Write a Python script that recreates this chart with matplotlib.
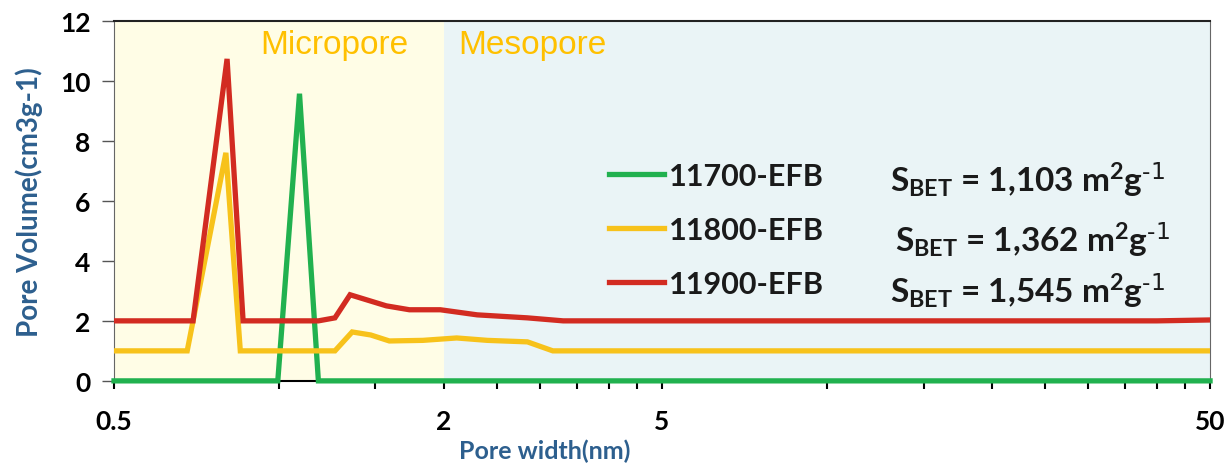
import matplotlib
matplotlib.use('Agg')
import matplotlib.pyplot as plt
from matplotlib.ticker import FixedLocator, NullFormatter, FixedFormatter

plt.rcParams['font.family'] = ['Lato', 'DejaVu Sans']
plt.rcParams['mathtext.default'] = 'regular'

# pore size distribution, pore width in nm, volume in cm3/g
w_700 = [0.5, 0.995, 1.09, 1.18, 50]
v_700 = [0, 0, 9.57, 0, 0]

w_800 = [0.5, 0.68, 0.80, 0.85, 1.265, 1.36, 1.47, 1.59, 1.83, 2.11, 2.40, 2.84, 3.16, 50]
v_800 = [1.0, 1.0, 7.6, 1.0, 1.0, 1.63, 1.53, 1.33, 1.35, 1.43, 1.35, 1.3, 1.0, 1.0]

w_900 = [0.5, 0.697, 0.804, 0.86, 1.18, 1.265, 1.348, 1.57, 1.73, 1.97, 2.30, 2.84, 3.30, 40, 50]
v_900 = [2.0, 2.0, 10.73, 2.0, 2.0, 2.1, 2.87, 2.5, 2.37, 2.37, 2.2, 2.1, 2.0, 2.0, 2.03]

names = ['11700-EFB', '11800-EFB', '11900-EFB']
colors = ['#21B14F', '#F7C21B', '#D22B21']
sbet = ['1,103', '1,362', '1,545']

major_ticks = [0.5, 2, 5, 50]
minor_ticks = [1, 1.5, 2.5, 3, 3.5, 4, 4.5, 10, 15, 20, 25, 30, 35, 40, 45]

fig = plt.figure(figsize=(12.26, 4.64), dpi=100)
ax = fig.add_axes([0.093, 0.177, 0.894, 0.776])

ax.axvspan(0.5, 2, color='#FFFDE6', lw=0, zorder=0)
ax.axvspan(2, 50, color='#EAF4F6', lw=0, zorder=0)

lines = []
for w, v, c in zip([w_700, w_800, w_900], [v_700, v_800, v_900], colors):
    ln, = ax.plot(w, v, color=c, lw=3.8, solid_joinstyle='miter', zorder=3)
    lines.append(ln)
# green line sits on the x axis, keep its lower half visible
lines[0].set_clip_on(False)

ax.set_xscale('log')
ax.set_xlim(0.5, 50)
ax.set_ylim(0, 12)
ax.xaxis.set_major_locator(FixedLocator(major_ticks))
ax.xaxis.set_major_formatter(FixedFormatter([str(t) for t in major_ticks]))
ax.xaxis.set_minor_locator(FixedLocator(minor_ticks))
ax.xaxis.set_minor_formatter(NullFormatter())
ax.set_yticks(range(0, 13, 2))

ax.tick_params(axis='x', which='both', direction='out', length=6, width=1.5,
               pad=14, labelsize=19, color='black')
ax.tick_params(axis='y', direction='out', length=9, width=1, pad=8,
               labelsize=19, color='#555555')
for lab in ax.get_xticklabels() + ax.get_yticklabels():
    lab.set_fontweight('bold')

ax.spines['top'].set_color('#222222')
ax.spines['top'].set_linewidth(1.5)
ax.spines['bottom'].set_color('black')
ax.spines['bottom'].set_linewidth(1.5)
ax.spines['left'].set_color('#666666')
ax.spines['right'].set_color('#666666')

label_col = '#2D5F8E'
ax.set_ylabel('Pore Volume(cm3g-1)', fontsize=20, fontweight='bold',
              color=label_col)
ax.yaxis.set_label_coords(-0.065, 0.5)
ax.set_xlabel('Pore width(nm)', fontsize=18, fontweight='bold', color=label_col)
ax.xaxis.label.set_va('bottom')
ax.xaxis.set_label_coords(0.393, -0.225)

ax.text(1.26, 11.2, 'Micropore', color='#FFC000', fontsize=24,
        family='Liberation Sans', ha='center', va='center')
ax.text(2.9, 11.2, 'Mesopore', color='#FFC000', fontsize=24,
        family='Liberation Sans', ha='center', va='center')

leg = ax.legend(lines, names, loc='upper left', bbox_to_anchor=(0.452, 0.608),
                frameon=False, handlelength=1.8, handletextpad=0.15,
                borderpad=0, borderaxespad=0, labelspacing=0.85,
                prop={'weight': 'bold', 'size': 22})
for t in leg.get_texts():
    t.set_color('#1A1A1A')

for i, (s, yy) in enumerate(zip(sbet, [6.75, 4.75, 3.05])):
    ax.text(0.708 + (0.005 if i == 1 else 0), yy,
            r'S$_{BET}$ = ' + s + r' m$^{2}$g$^{\text{-1}}$',
            transform=ax.get_yaxis_transform(), fontsize=24, fontweight='bold',
            color='#1A1A1A', ha='left', va='center')

fig.savefig('out.png', dpi=100)
